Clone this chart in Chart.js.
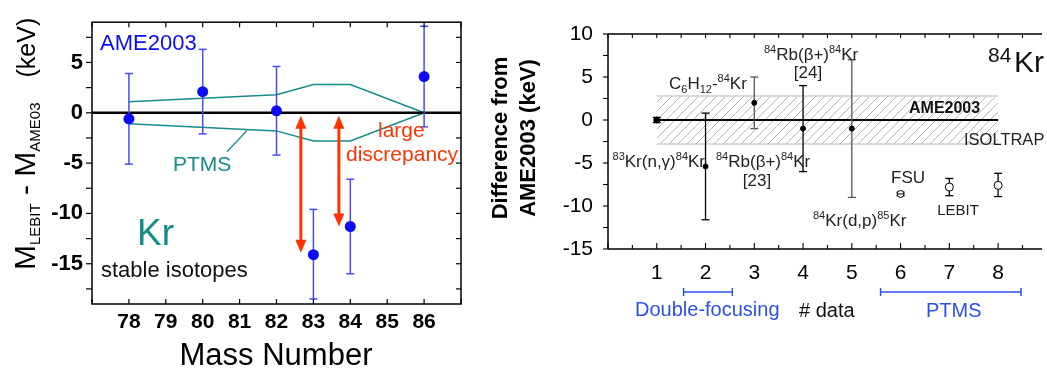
<!DOCTYPE html>
<html>
<head>
<meta charset="utf-8">
<script src="https://cdn.jsdelivr.net/npm/chart.js@4.4.1/dist/chart.umd.min.js"></script>
<style>
  html, body { margin: 0; padding: 0; background: #fff; }
  #wrap { position: relative; width: 1047px; height: 372px; overflow: hidden; }
  #massChart { position: absolute; left: 0; top: 0; }
  #krChart { position: absolute; left: 480px; top: 0; }
</style>
</head>
<body>
<div id="wrap">
  <canvas id="massChart" width="470" height="372"></canvas>
  <canvas id="krChart" width="567" height="372"></canvas>
</div>
<script>
// ---- left panel: LEBIT - AME2003, stable Kr isotopes ----
let massNumbers = [78, 80, 82, 83, 84, 86];
let massDiff = [-0.6, 2.1, 0.2, -14.1, -11.3, 3.6];
let massErrHi = [3.9, 6.3, 4.6, -9.6, -6.6, 8.6];
let massErrLo = [-5.1, -2.1, -4.2, -18.5, -16.0, -1.4];
let ptmsMass = [78, 82, 83, 84, 86];
let ptmsUpper = [1.1, 1.8, 2.8, 2.8, 0];
let ptmsLower = [-1.1, -1.8, -2.8, -2.8, 0];
let arrowMass = [82.66, 83.69];
let arrowTop = [-0.3, -0.3];
let arrowBottom = [-13.9, -11.3];
let massTickLabels = [78, 79, 80, 81, 82, 83, 84, 85, 86];

// ---- right panel: 84Kr, difference from AME2003 ----
let dataIndex = [1, 2, 3, 4, 5, 6, 7, 8];
let krDiff = [0, -5.4, 2.0, -1.0, -1.0, -8.6, -7.8, -7.6];
let krErrHi = [0.3, 0.8, 5.0, 4.0, 7.0, -8.4, -6.8, -6.2];
let krErrLo = [-0.3, -11.6, -1.0, -6.0, -9.0, -8.8, -8.8, -8.9];
let krBarColor = ['#000', '#000', '#555', '#000', '#555', '#000', '#000', '#000'];
let krOpen = [false, false, false, false, false, true, true, true];
let ameBandX = [1, 8];
let ameBandHi = [2.8, 2.8];
let ameBandLo = [-2.8, -2.8];
let groupStart = [1.55, 5.59];
let groupEnd = [2.55, 8.47];
let krTickLabels = [1, 2, 3, 4, 5, 6, 7, 8];

const FONT = "'Liberation Sans', Arial, Helvetica, sans-serif";
const blue = '#0c0cf5';
const teal = '#178a8a';
const red = '#ff3300';

function font(size, bold) {
    return (bold ? 'bold ' : '') + size + 'px ' + FONT;
}

// parts: [text, size, dy]
function drawRich(ctx, x, y, parts, opt) {
    opt = opt || {};
    ctx.save();
    ctx.fillStyle = opt.color || '#000';
    ctx.textBaseline = 'alphabetic';
    ctx.textAlign = 'left';
    let w = 0;
    parts.forEach(p => { ctx.font = font(p[1], opt.bold); w += ctx.measureText(p[0]).width; });
    let cx = x;
    if (opt.align === 'center') cx = x - w / 2;
    if (opt.align === 'right') cx = x - w;
    parts.forEach(p => {
        ctx.font = font(p[1], opt.bold);
        ctx.fillText(p[0], cx, y + (p[2] || 0));
        cx += ctx.measureText(p[0]).width;
    });
    ctx.restore();
}
const sup = (t, s) => [t, Math.round(s * 0.62), -s * 0.4];
const sub = (t, s) => [t, Math.round(s * 0.62), s * 0.25];

function line(ctx, x1, y1, x2, y2) {
    ctx.beginPath();
    ctx.moveTo(x1, y1);
    ctx.lineTo(x2, y2);
    ctx.stroke();
}

function errorBars(ctx, xs, his, los, color, cap, width) {
    ctx.save();
    ctx.lineWidth = width;
    xs.forEach((px, i) => {
        ctx.strokeStyle = Array.isArray(color) ? color[i] : color;
        line(ctx, px, his[i], px, los[i]);
        line(ctx, px - cap, his[i], px + cap, his[i]);
        line(ctx, px - cap, los[i], px + cap, los[i]);
    });
    ctx.restore();
}

function arrow(ctx, x, y1, y2) {
    const hl = 13, hw = 5.5;
    ctx.beginPath();
    ctx.moveTo(x, y1 + hl - 2);
    ctx.lineTo(x, y2 - hl + 2);
    ctx.stroke();
    ctx.beginPath();
    ctx.moveTo(x, y1); ctx.lineTo(x - hw, y1 + hl); ctx.lineTo(x + hw, y1 + hl);
    ctx.closePath(); ctx.fill();
    ctx.beginPath();
    ctx.moveTo(x, y2); ctx.lineTo(x - hw, y2 - hl); ctx.lineTo(x + hw, y2 - hl);
    ctx.closePath(); ctx.fill();
}

const massPlugin = {
    id: 'massExtras',
    beforeDatasetDraw(chart, args) {
        if (args.index !== 0) return;
        const { x, y } = chart.scales;
        errorBars(chart.ctx,
            massNumbers.map(v => x.getPixelForValue(v)),
            massErrHi.map(v => y.getPixelForValue(v)),
            massErrLo.map(v => y.getPixelForValue(v)),
            '#4a4aff', 4, 1.5);
    },
    afterDatasetsDraw(chart) {
        const { ctx, chartArea: a, scales: { x, y } } = chart;
        ctx.save();
        // frame + ticks
        ctx.strokeStyle = '#000';
        ctx.lineWidth = 1.5;
        ctx.strokeRect(a.left, a.top, a.right - a.left, a.bottom - a.top);
        ctx.lineWidth = 1.2;
        y.ticks.forEach(t => {
            const py = y.getPixelForValue(t.value);
            line(ctx, a.left - 6, py, a.left, py);
            line(ctx, a.right - 5, py, a.right, py);
        });
        x.ticks.forEach(t => {
            const px = x.getPixelForValue(t.value);
            line(ctx, px, a.bottom, px, a.bottom - 5);
            line(ctx, px, a.top, px, a.top + 5);
        });
        // discrepancy arrows
        ctx.strokeStyle = red;
        ctx.fillStyle = red;
        ctx.lineWidth = 3;
        arrowMass.forEach((m, i) => {
            arrow(ctx, x.getPixelForValue(m), y.getPixelForValue(arrowTop[i]), y.getPixelForValue(arrowBottom[i]));
        });
        // pointer to PTMS band
        ctx.strokeStyle = teal;
        ctx.lineWidth = 1.2;
        line(ctx, x.getPixelForValue(80.66), y.getPixelForValue(-3.87), x.getPixelForValue(81.2), y.getPixelForValue(-1.76));
        ctx.restore();

        drawRich(ctx, 100, 50, [['AME2003', 22]], { color: blue });
        drawRich(ctx, 173, 171, [['PTMS', 21]], { color: teal });
        drawRich(ctx, 378, 137, [['large', 21]], { color: red });
        drawRich(ctx, 346, 161, [['discrepancy', 21]], { color: red });
        drawRich(ctx, 137, 245, [['Kr', 37]], { color: teal });
        drawRich(ctx, 101, 277, [['stable isotopes', 22]], { color: '#111' });
        drawRich(ctx, 276, 365, [['Mass Number', 31]], { align: 'center' });

        // rotated y title
        ctx.save();
        ctx.translate(35, 270);
        ctx.rotate(-Math.PI / 2);
        drawRich(ctx, 0, 0, [['M', 30], ['LEBIT', 15, 5], [' - ', 30], ['M', 30], ['AME03', 15, 5], ['   ', 30], ['(keV)', 25]]);
        ctx.restore();
    }
};

new Chart(document.getElementById('massChart'), {
    type: 'scatter',
    data: {
        datasets: [{
            label: 'LEBIT',
            data: massNumbers.map((m, i) => ({ x: m, y: massDiff[i] })),
            pointRadius: 5.5,
            pointBackgroundColor: blue,
            pointBorderWidth: 0,
            showLine: false
        }, {
            label: 'zero',
            data: [{ x: 77, y: 0 }, { x: 87, y: 0 }],
            showLine: true,
            borderColor: '#000',
            borderWidth: 2.5,
            pointRadius: 0
        }, {
            label: 'PTMS upper',
            data: ptmsMass.map((m, i) => ({ x: m, y: ptmsUpper[i] })),
            showLine: true,
            borderColor: teal,
            borderWidth: 1.5,
            pointRadius: 0
        }, {
            label: 'PTMS lower',
            data: ptmsMass.map((m, i) => ({ x: m, y: ptmsLower[i] })),
            showLine: true,
            borderColor: teal,
            borderWidth: 1.5,
            pointRadius: 0
        }]
    },
    options: {
        responsive: false,
        animation: false,
        layout: { padding: { top: 7, right: 9, left: 0, bottom: 0 } },
        plugins: { legend: { display: false }, tooltip: { enabled: false } },
        scales: {
            x: {
                type: 'linear', min: 77, max: 87,
                grid: { display: false, drawTicks: false },
                border: { display: false },
                ticks: {
                    stepSize: 1, autoSkip: false, maxRotation: 0, padding: 6,
                    color: '#000', font: { family: FONT, size: 21, weight: 'bold' },
                    callback: v => massTickLabels.includes(v) ? String(v) : ''
                },
                afterFit: s => { s.height = 68; }
            },
            y: {
                type: 'linear', min: -19, max: 9,
                grid: { display: false, drawTicks: false },
                border: { display: false },
                ticks: {
                    stepSize: 2.5, includeBounds: false, autoSkip: false, padding: 9,
                    color: '#000', font: { family: FONT, size: 22, weight: 'bold' },
                    callback: v => (v % 5 === 0 ? String(v) : '')
                },
                afterFit: s => { s.width = 92; }
            }
        }
    },
    plugins: [massPlugin]
});

// ---- right chart ----
function hatchPattern() {
    const c = document.createElement('canvas');
    c.width = 9; c.height = 9;
    const g = c.getContext('2d');
    g.strokeStyle = '#b8b8b8';
    g.lineWidth = 1;
    g.beginPath();
    g.moveTo(0, 9); g.lineTo(9, 0);
    g.moveTo(-1, 1); g.lineTo(1, -1);
    g.moveTo(8, 10); g.lineTo(10, 8);
    g.stroke();
    return g.createPattern(c, 'repeat');
}

const krPlugin = {
    id: 'krExtras',
    beforeDatasetDraw(chart, args) {
        if (args.index !== 1) return;
        const { x, y } = chart.scales;
        errorBars(chart.ctx,
            dataIndex.map(v => x.getPixelForValue(v)),
            krErrHi.map(v => y.getPixelForValue(v)),
            krErrLo.map(v => y.getPixelForValue(v)),
            krBarColor, 4, 1.3);
    },
    afterDatasetsDraw(chart) {
        const { ctx, chartArea: a, scales: { x, y } } = chart;
        ctx.save();
        ctx.strokeStyle = '#000';
        ctx.lineWidth = 1.5;
        line(ctx, a.left, a.top, a.right, a.top);
        line(ctx, a.left, a.top, a.left, a.bottom);
        line(ctx, a.left, a.bottom, a.right, a.bottom);
        ctx.lineWidth = 1.1;
        y.ticks.forEach(t => {
            const py = y.getPixelForValue(t.value);
            line(ctx, a.left - 5, py, a.left, py);
        });
        x.ticks.forEach(t => {
            const px = x.getPixelForValue(t.value);
            const major = Number.isInteger(t.value);
            line(ctx, px, a.bottom, px, a.bottom - (major ? 6 : 4));
            line(ctx, px, a.top, px, a.top + 4);
        });
        // method group brackets
        ctx.strokeStyle = '#2b50ee';
        ctx.fillStyle = '#2b50ee';
        ctx.lineWidth = 1.5;
        groupStart.forEach((g, i) => {
            const x1 = x.getPixelForValue(g), x2 = x.getPixelForValue(groupEnd[i]);
            line(ctx, x1, 292, x2, 292);
            line(ctx, x1, 288, x1, 296);
            line(ctx, x2, 288, x2, 296);
        });
        ctx.restore();

        const s = 17;
        drawRich(ctx, 189, 89, [['C', s], sub('6', s), ['H', s], sub('12', s), ['-', s], sup('84', s), ['Kr', s]], { color: '#222' });
        drawRich(ctx, 284, 60, [sup('84', s), ['Rb(\u03b2+)', s], sup('84', s), ['Kr', s]], { color: '#222' });
        drawRich(ctx, 328, 78, [['[24]', s]], { color: '#222', align: 'center' });
        drawRich(ctx, 225, 167, [sup('83', s), ['Kr(n,\u03b3)', s], sup('84', s), ['Kr', s]], { color: '#222', align: 'right' });
        drawRich(ctx, 236, 167, [sup('84', s), ['Rb(\u03b2+)', s], sup('84', s), ['Kr', s]], { color: '#222' });
        drawRich(ctx, 277, 186, [['[23]', s]], { color: '#222', align: 'center' });
        drawRich(ctx, 333, 226, [sup('84', s), ['Kr(d,p)', s], sup('85', s), ['Kr', s]], { color: '#222' });
        drawRich(ctx, 428, 183, [['FSU', 17]], { color: '#222', align: 'center' });
        drawRich(ctx, 478, 215, [['LEBIT', 15]], { color: '#222', align: 'center' });
        drawRich(ctx, 429, 113, [['AME2003', 16]], { color: '#111', bold: true });
        drawRich(ctx, 484, 145, [['ISOLTRAP', 16.5]], { color: '#222' });
        drawRich(ctx, 508, 62, [['84', 21]], { color: '#111' });
        drawRich(ctx, 534, 72, [['Kr', 30]], { color: '#111' });
        drawRich(ctx, 155, 316, [['Double-focusing', 20]], { color: '#2b50ee' });
        drawRich(ctx, 319, 317, [['# data', 20]], { color: '#111' });
        drawRich(ctx, 446, 317, [['PTMS', 20]], { color: '#2b50ee' });

        ctx.save();
        ctx.fillStyle = '#000';
        ctx.font = font(22, true);
        ctx.textAlign = 'center';
        ctx.textBaseline = 'middle';
        ctx.translate(21, 138);
        ctx.rotate(-Math.PI / 2);
        ctx.fillText('Difference from', 0, 0);
        ctx.fillText('AME2003 (keV)', 0, 28);
        ctx.restore();
    }
};

new Chart(document.getElementById('krChart'), {
    type: 'scatter',
    data: {
        datasets: [{
            label: 'FSU bar',
            data: dataIndex.filter((v, i) => i === 5).map(v => ({ x: v, y: krDiff[5] })),
            pointStyle: 'line',
            pointRadius: 3.5,
            pointBorderColor: '#000',
            pointBorderWidth: 1,
            showLine: false
        }, {
            label: 'data',
            data: dataIndex.map((v, i) => ({ x: v, y: krDiff[i] })),
            pointRadius: krOpen.map((o, i) => (o ? (i === 5 ? 3.5 : 4) : (i === 0 ? 3 : 2.5))),
            pointBackgroundColor: krOpen.map(o => (o ? '#fff' : '#000')),
            pointBorderColor: '#000',
            pointBorderWidth: 1,
            showLine: false
        }, {
            label: 'zero',
            data: ameBandX.map(v => ({ x: v, y: 0 })),
            showLine: true,
            borderColor: '#000',
            borderWidth: 2,
            pointRadius: 0
        }, {
            label: 'AME2003 upper',
            data: ameBandX.map((v, i) => ({ x: v, y: ameBandHi[i] })),
            showLine: true,
            borderColor: '#cfcfcf',
            borderWidth: 1.5,
            pointRadius: 0,
            fill: '+1',
            backgroundColor: hatchPattern()
        }, {
            label: 'AME2003 lower',
            data: ameBandX.map((v, i) => ({ x: v, y: ameBandLo[i] })),
            showLine: true,
            borderColor: '#cfcfcf',
            borderWidth: 1.5,
            pointRadius: 0
        }]
    },
    options: {
        responsive: false,
        animation: false,
        layout: { padding: { top: 34, right: 0, left: 0, bottom: 0 } },
        plugins: { legend: { display: false }, tooltip: { enabled: false } },
        scales: {
            x: {
                type: 'linear', min: 0, max: 8.9,
                grid: { display: false, drawTicks: false },
                border: { display: false },
                ticks: {
                    stepSize: 0.5, includeBounds: false, autoSkip: false, maxRotation: 0, padding: 12,
                    color: '#000', font: { family: FONT, size: 21 },
                    callback: v => krTickLabels.includes(v) ? String(v) : ''
                },
                afterFit: s => { s.height = 123; }
            },
            y: {
                type: 'linear', min: -15, max: 10,
                grid: { display: false, drawTicks: false },
                border: { display: false },
                ticks: {
                    stepSize: 2.5, includeBounds: false, autoSkip: false, padding: 15,
                    color: '#000', font: { family: FONT, size: 21 },
                    callback: v => (v % 5 === 0 ? String(v) : '')
                },
                afterFit: s => { s.width = 128; }
            }
        }
    },
    plugins: [krPlugin]
});
</script>
</body>
</html>
